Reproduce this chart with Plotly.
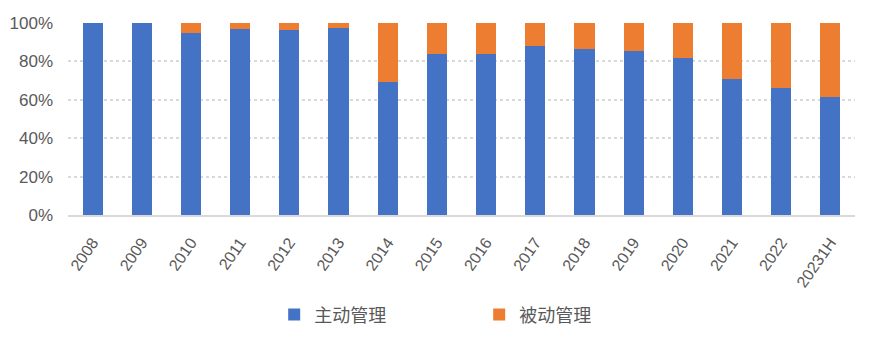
import plotly.graph_objects as go

years = ["2008", "2009", "2010", "2011", "2012", "2013", "2014", "2015",
         "2016", "2017", "2018", "2019", "2020", "2021", "2022", "20231H"]
active = [100.0, 100.0, 94.8, 96.9, 96.4, 97.4, 69.3, 83.9,
          83.9, 88.0, 86.5, 85.4, 81.8, 70.8, 66.1, 61.5]
passive = [round(100 - a, 1) for a in active]

font_family = "Liberation Sans Narrow, Arial Narrow, Liberation Sans, Noto Sans CJK SC, sans-serif"
text_color = "#595959"

fig = go.Figure()
fig.add_trace(go.Bar(x=years, y=active, name="主动管理", marker_color="#4472C4",
                     marker_line_width=0))
fig.add_trace(go.Bar(x=years, y=passive, name="被动管理", marker_color="#ED7D31",
                     marker_line_width=0))

fig.update_layout(
    barmode="stack",
    bargap=0.59,
    width=877, height=337,
    margin=dict(l=68, r=22, t=23, b=122, autoexpand=False),
    plot_bgcolor="white", paper_bgcolor="white",
    font=dict(family=font_family, color=text_color, size=17),
    showlegend=True,
    legend=dict(orientation="h", x=0.262, xanchor="left", y=-0.52, yanchor="middle",
                font=dict(size=18, family="Noto Sans CJK SC, sans-serif", color=text_color),
                entrywidth=160, entrywidthmode="pixels", itemwidth=30,
                traceorder="normal"),
)
fig.update_yaxes(range=[0, 100], tickvals=[0, 20, 40, 60, 80, 100],
                 ticktext=["0%", "20%", "40%", "60%", "80%", "100%"],
                 showgrid=True, gridcolor="#D9D9D9", griddash="dot", gridwidth=1.5,
                 zeroline=False, showline=False, ticks="", ticklabelstandoff=14,
                 automargin=False, tickfont=dict(size=17))
fig.update_xaxes(showgrid=False, showline=True, linecolor="#D9D9D9", linewidth=2,
                 tickangle=-55, ticks="", ticklabelstandoff=10, automargin=False,
                 tickfont=dict(size=16))

fig.write_html("out.html")
